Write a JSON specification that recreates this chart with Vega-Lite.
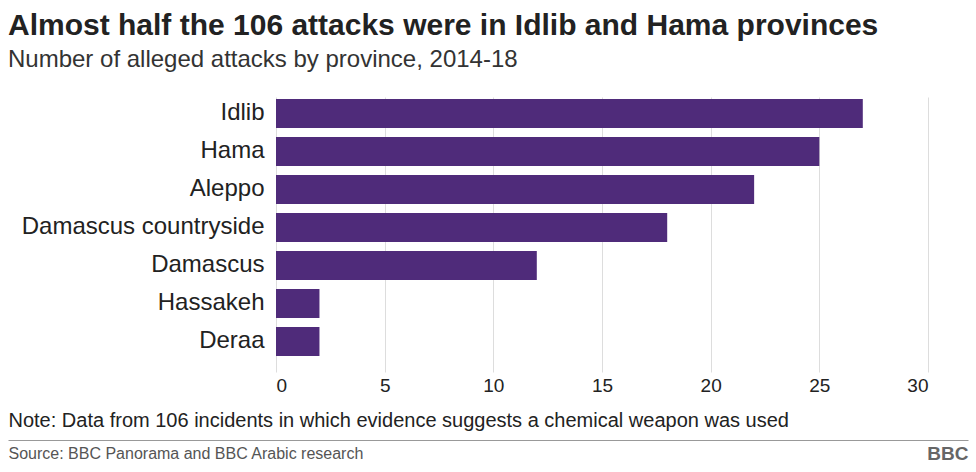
{
  "$schema": "https://vega.github.io/schema/vega-lite/v6.json",
  "width": 652,
  "height": 275,
  "autosize": {"type": "none"},
  "padding": {"left": 276, "top": 97, "right": 48, "bottom": 100},
  "background": "white",
  "config": {
    "font": "Liberation Sans",
    "view": {"stroke": null}
  },
  "title": {
    "text": "Almost half the 106 attacks were in Idlib and Hama provinces",
    "subtitle": "Number of alleged attacks by province, 2014-18",
    "anchor": "start",
    "frame": "group",
    "dx": -268,
    "fontSize": 30,
    "fontWeight": "bold",
    "color": "#222222",
    "subtitleFontSize": 24,
    "subtitleColor": "#333333",
    "subtitlePadding": 7,
    "offset": 25
  },
  "data": {
    "values": [
      {"province": "Idlib", "attacks": 27},
      {"province": "Hama", "attacks": 25},
      {"province": "Aleppo", "attacks": 22},
      {"province": "Damascus countryside", "attacks": 18},
      {"province": "Damascus", "attacks": 12},
      {"province": "Hassakeh", "attacks": 2},
      {"province": "Deraa", "attacks": 2}
    ]
  },
  "layer": [
    {
      "mark": {"type": "bar", "color": "#4f2b7a"},
      "encoding": {
        "y": {
          "field": "province",
          "type": "nominal",
          "sort": null,
          "scale": {"paddingInner": 0.237, "paddingOuter": 0.237, "align": 0.11},
          "axis": {
            "title": "BBC",
            "titleAngle": 0,
            "titleX": 692,
            "titleY": 356,
            "titleAlign": "right",
            "titleBaseline": "middle",
            "titleFontSize": 19,
            "titleFontWeight": "bold",
            "titleColor": "#666666",
            "labelFontSize": 24,
            "labelColor": "#222222",
            "labelPadding": 12,
            "labelLimit": 400,
            "ticks": false,
            "domain": false,
            "grid": false
          }
        },
        "x": {
          "field": "attacks",
          "type": "quantitative",
          "scale": {"domain": [0, 30]},
          "axis": {
            "values": [0, 5, 10, 15, 20, 25, 30],
            "title": "Note: Data from 106 incidents in which evidence suggests a chemical weapon was used",
            "titleX": -268,
            "titleY": 48,
            "titleAlign": "left",
            "titleAnchor": null,
            "titleBaseline": "middle",
            "titleFontSize": 20,
            "titleFontWeight": "normal",
            "titleColor": "#222222",
            "labelFontSize": 19,
            "labelColor": "#222222",
            "labelPadding": 4,
            "ticks": false,
            "domain": false,
            "grid": true,
            "gridColor": "#dddddd"
          }
        }
      }
    },
    {
      "mark": {"type": "point", "opacity": 0},
      "encoding": {
        "y": {"field": "province", "type": "nominal", "sort": null},
        "x": {
          "field": "attacks",
          "type": "quantitative",
          "scale": {"domain": [0, 30], "range": [-268, 692]},
          "axis": {
            "orient": "top",
            "offset": -343,
            "labels": false,
            "ticks": false,
            "grid": false,
            "domain": true,
            "domainColor": "#999999",
            "domainWidth": 1,
            "title": "Source: BBC Panorama and BBC Arabic research",
            "titleX": -268,
            "titleY": 13,
            "titleAlign": "left",
            "titleAnchor": null,
            "titleBaseline": "middle",
            "titleFontSize": 16,
            "titleFontWeight": "normal",
            "titleColor": "#555555"
          }
        }
      }
    }
  ],
  "resolve": {"scale": {"x": "independent"}, "axis": {"x": "independent"}}
}
